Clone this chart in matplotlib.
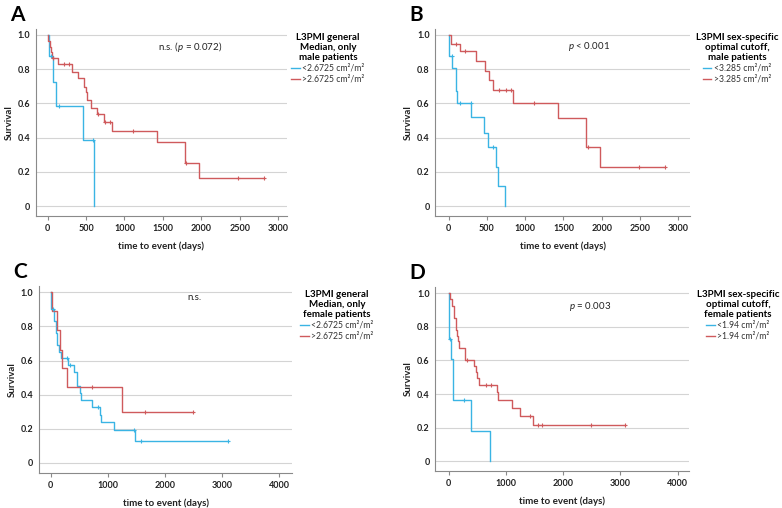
import numpy as np
import matplotlib
matplotlib.use('Agg')
import matplotlib.pyplot as plt
from matplotlib.lines import Line2D

plt.rcParams['font.family'] = ['Lato', 'DejaVu Sans']
plt.rcParams['mathtext.fontset'] = 'custom'
plt.rcParams['mathtext.rm'] = 'Lato'
plt.rcParams['mathtext.it'] = 'Lato:italic'
plt.rcParams['mathtext.bf'] = 'Lato:bold'

BLUE = '#3ab4e4'
RED = '#cf5a5c'

# ---- Panel A: L3PMI general median, male patients
A_low_t = [17, 73, 108, 464, 598]
A_low_s = [0.877, 0.727, 0.585, 0.386, 0.0]
A_low_c = [39, 147, 585]
A_high_t = [10, 25, 40, 52, 138, 312, 399, 477, 495, 508, 564, 646, 733, 833, 1419, 1786, 1964]
A_high_s = [0.965, 0.93, 0.90, 0.865, 0.828, 0.786, 0.747, 0.698, 0.668, 0.62, 0.575, 0.536, 0.493, 0.438, 0.376, 0.25, 0.167]
A_high_c = [70, 217, 282, 650, 743, 808, 1107, 1807, 2480, 2813]

# ---- Panel B: sex-specific optimal cutoff, male patients
B_low_t = [9, 45, 93, 115, 293, 462, 508, 612, 645, 742]
B_low_s = [0.875, 0.805, 0.67, 0.605, 0.52, 0.43, 0.345, 0.23, 0.115, 0.0]
B_low_c = [39, 149, 286, 585]
B_high_t = [26, 144, 355, 478, 522, 574, 834, 1427, 1798, 1972]
B_high_s = [0.95, 0.906, 0.849, 0.79, 0.737, 0.678, 0.60, 0.516, 0.345, 0.23]
B_high_c = [91, 218, 653, 753, 818, 1117, 1815, 2490, 2825]

# ---- Panel C: L3PMI general median, female patients
C_low_t = [11, 58, 87, 117, 140, 175, 303, 402, 466, 507, 536, 723, 857, 886, 1108, 1470]
C_low_s = [0.902, 0.83, 0.762, 0.693, 0.648, 0.613, 0.576, 0.533, 0.449, 0.41, 0.371, 0.328, 0.283, 0.238, 0.191, 0.127]
C_low_c = [35, 286, 332, 828, 1452, 1587, 3096]
C_high_t = [23, 115, 170, 200, 291, 1254]
C_high_s = [0.889, 0.777, 0.664, 0.557, 0.445, 0.299]
C_high_c = [723, 1657, 2496]

# ---- Panel D: sex-specific optimal cutoff, female patients
D_low_t = [3, 10, 45, 72, 390, 713]
D_low_s = [0.91, 0.727, 0.606, 0.364, 0.182, 0.0]
D_low_c = [23, 268]
D_high_t = [23, 63, 98, 122, 145, 168, 180, 285, 448, 471, 500, 535, 838, 867, 1100, 1245, 1467]
D_high_s = [0.966, 0.926, 0.853, 0.783, 0.744, 0.714, 0.674, 0.605, 0.569, 0.53, 0.496, 0.456, 0.41, 0.363, 0.317, 0.272, 0.218]
D_high_c = [320, 658, 745, 1420, 1553, 1623, 2486, 3086]

panels = [
    dict(letter='A', rect=(35.7, 287, 29, 216), xlim=(-156, 3116), ylim=(-0.058, 1.035),
         xticks=[0, 500, 1000, 1500, 2000, 2500, 3000],
         low=(A_low_t, A_low_s, A_low_c), high=(A_high_t, A_high_s, A_high_c),
         note=r'n.s. ($\it{p}$ = 0.072)', note_xy=(1853, 0.93),
         title='L3PMI general\nMedian, only\nmale patients',
         labels=['<2.6725 cm²/m²', '>2.6725 cm²/m²'], leg=(328, 27)),
    dict(letter='B', rect=(435.3, 690, 29, 216), xlim=(-175, 3153), ylim=(-0.058, 1.035),
         xticks=[0, 500, 1000, 1500, 2000, 2500, 3000],
         low=(B_low_t, B_low_s, B_low_c), high=(B_high_t, B_high_s, B_high_c),
         note=r'$\it{p}$ < 0.001', note_xy=(1834, 0.935),
         title='L3PMI sex-specific\noptimal cutoff,\nmale patients',
         labels=['<3.285 cm²/m²', '>3.285 cm²/m²'], leg=(737, 27)),
    dict(letter='C', rect=(39, 292.3, 286, 473), xlim=(-205, 4227), ylim=(-0.0586, 1.037),
         xticks=[0, 1000, 2000, 3000, 4000],
         low=(C_low_t, C_low_s, C_low_c), high=(C_high_t, C_high_s, C_high_c),
         note='n.s.', note_xy=(2513, 0.97),
         title='L3PMI general\nMedian, only\nfemale patients',
         labels=['<2.6725 cm²/m²', '>2.6725 cm²/m²'], leg=(337, 284)),
    dict(letter='D', rect=(435.3, 689.3, 287, 470.7), xlim=(-234, 4203), ylim=(-0.056, 1.037),
         xticks=[0, 1000, 2000, 3000, 4000],
         low=(D_low_t, D_low_s, D_low_c), high=(D_high_t, D_high_s, D_high_c),
         note=r'$\it{p}$ = 0.003', note_xy=(2468, 0.92),
         title='L3PMI sex-specific\noptimal cutoff,\nfemale patients',
         labels=['<1.94 cm²/m²', '>1.94 cm²/m²'], leg=(738, 284)),
]

W, H = 782, 508
fig = plt.figure(figsize=(W / 100, H / 100), dpi=100)


def km(ax, times, surv, cens, color):
    end = max(max(times), max(cens)) if cens else max(times)
    x = np.r_[0, times, end]
    y = np.r_[1.0, surv, surv[-1]]
    ax.step(x, y, where='post', color=color, lw=1.0, zorder=3)
    cx = np.array(cens)
    idx = np.searchsorted(x, cx, side='right') - 1
    ax.plot(cx, y[idx], ls='none', marker='+', ms=3.5, mew=0.8, color=color, zorder=4)


for p in panels:
    l, r, t, b = p['rect']
    ax = fig.add_axes([l / W, 1 - b / H, (r - l) / W, (b - t) / H])
    ax.set_xlim(p['xlim'])
    ax.set_ylim(p['ylim'])
    yt = [0, 0.2, 0.4, 0.6, 0.8, 1.0]
    ax.set_yticks(yt)
    ax.set_yticklabels(['0', '0.2', '0.4', '0.6', '0.8', '1.0'])
    ax.set_xticks(p['xticks'])
    for v in yt:
        ax.axhline(v, color='#d4d4d4', lw=0.8, zorder=1)
    for s in ['top', 'right']:
        ax.spines[s].set_visible(False)
    for s in ['left', 'bottom']:
        ax.spines[s].set_color('#8a8a8a')
        ax.spines[s].set_linewidth(0.8)
    ax.tick_params(axis='y', length=0, labelsize=6.5, pad=4, labelcolor='#222222')
    ax.tick_params(axis='x', length=3, color='#8a8a8a', labelsize=6.5, pad=3, labelcolor='#222222')
    for lab in ax.get_xticklabels() + ax.get_yticklabels():
        lab.set_fontweight('bold')
    ax.set_xlabel('time to event (days)', fontsize=7, fontweight='bold', color='#222222', labelpad=6)
    ax.set_ylabel('Survival', fontsize=7, fontweight='bold', color='#222222', labelpad=3)

    km(ax, *p['low'], BLUE)
    km(ax, *p['high'], RED)

    ax.text(p['note_xy'][0], p['note_xy'][1], p['note'], ha='center', va='center',
            fontsize=7, color='#222222')

    fig.text((l - 26) / W, 1 - (t - 14) / H, p['letter'], fontsize=15, fontweight='bold',
             ha='left', va='center')

    handles = [Line2D([], [], color=BLUE, lw=1.0), Line2D([], [], color=RED, lw=1.0)]
    lg = fig.legend(handles, p['labels'], title=p['title'], loc='upper center',
                    bbox_to_anchor=(p['leg'][0] / W, 1 - p['leg'][1] / H),
                    frameon=False, fontsize=6.2, handlelength=1.0, handletextpad=0.3,
                    labelspacing=0.2, borderpad=0.2)
    plt.setp(lg.get_title(), fontsize=7, fontweight='bold', multialignment='center',
             linespacing=1.15)
    for txt in lg.get_texts():
        txt.set_color('#333333')

plt.savefig('out.png', dpi=100)
